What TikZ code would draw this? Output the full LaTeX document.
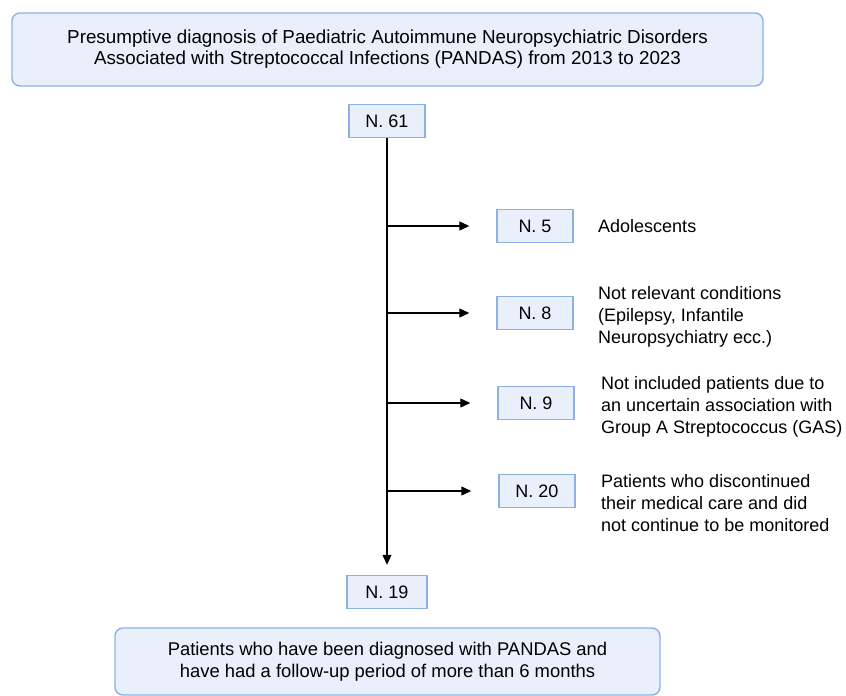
\documentclass[tikz,border=0pt]{standalone}
\usepackage{fontspec}
\setmainfont{Liberation Sans}
\usetikzlibrary{arrows.meta,positioning}
\definecolor{boxfill}{RGB}{233,240,251}
\definecolor{boxline}{RGB}{141,177,227}

\begin{document}
\begin{tikzpicture}[x=1pt,y=-1pt,
		font=\fontsize{16}{21}\selectfont,
		bigbox/.style={draw=boxline, fill=boxfill, line width=1.4pt, rounded corners=8pt, align=center},
		numbox/.style={draw=boxline, fill=boxfill, line width=1.4pt, minimum width=76pt, minimum height=33pt, inner sep=0pt, font=\fontsize{18}{21}\selectfont},
		note/.style={anchor=west, align=left, inner sep=0pt, font=\fontsize{18}{21.8}\selectfont},
		arr/.style={-{Triangle[length=10pt,width=9pt]}, line width=1.2pt}]
		\useasboundingbox (0,0) rectangle (846,696);

		\node[bigbox, minimum width=751pt, minimum height=73pt, font=\fontsize{18.8}{21}\selectfont] (top) at (387.5,49.5)
			{Presumptive diagnosis of Paediatric Autoimmune Neuropsychiatric Disorders\\Associated with Streptococcal Infections (PANDAS) from 2013 to 2023};
		\node[numbox] (n61) at (387,121) {N. 61};

		\node[numbox] (n5) at (535,226) {N. 5};
		\node[numbox] (n8) at (535,313) {N. 8};
		\node[numbox] (n9) at (536,403) {N. 9};
		\node[numbox] (n20) at (537,491) {N. 20};

		\node[note] (t5) at (598,226) {Adolescents};
		\node[note] (t8) at (598,317) {Not relevant conditions\\(Epilepsy, Infantile\\Neuropsychiatry ecc.)};
		\node[note] (t9) at (601,407) {Not included patients due to\\an uncertain association with\\Group A Streptococcus (GAS)};
		\node[note] (t20) at (601,503) {Patients who discontinued\\their medical care and did\\not continue to be monitored};

		\node[numbox, minimum width=80pt] (n19) at (387,592) {N. 19};
		\node[bigbox, minimum width=545pt, minimum height=67pt, font=\fontsize{18.4}{22}\selectfont] (end) at (387.5,661.5)
			{Patients who have been diagnosed with PANDAS and\\have had a follow-up period of more than 6 months};

		% main line
		\draw[arr, shorten >=10pt] (n61.south) -- (n19.north);

		% excluded
		\foreach \b in {n5,n8,n9,n20}
			\draw[arr, shorten >=27pt] (n61.south |- \b.west) -- (\b.west);
	\end{tikzpicture}
\end{document}
